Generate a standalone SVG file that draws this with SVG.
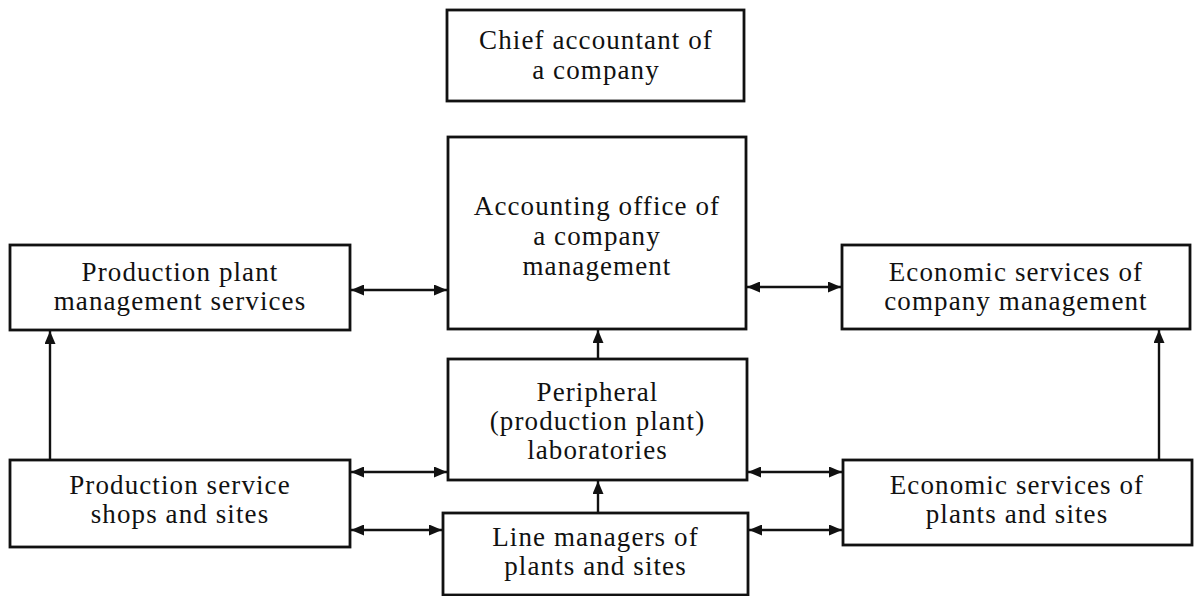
<svg xmlns="http://www.w3.org/2000/svg" width="1194" height="596" viewBox="0 0 1194 596">
<style>
.box{fill:#fff;stroke:#111;stroke-width:2.8}
.t{font-family:"Liberation Serif","Times New Roman",serif;font-size:27px;letter-spacing:1.1px;fill:#111;text-anchor:middle}
.c{stroke:#111;stroke-width:2.4;fill:none}
</style>
<defs>
<marker id="ah" viewBox="0 0 13 11" refX="13" refY="5.5" markerWidth="13" markerHeight="11" markerUnits="userSpaceOnUse" orient="auto-start-reverse">
<path d="M0,0 L13,5.5 L0,11 Z" fill="#111"/>
</marker>
</defs>
<rect width="1194" height="596" fill="#fff"/>
<g id="chief">
<rect class="box" x="447" y="10" width="297" height="91"/>
<text class="t" x="596" y="49">Chief accountant of</text>
<text class="t" x="596" y="79">a company</text>
</g>
<g id="accounting">
<rect class="box" x="448" y="137" width="298" height="192"/>
<text class="t" x="597" y="215">Accounting office of</text>
<text class="t" x="597" y="245">a company</text>
<text class="t" x="597" y="275">management</text>
</g>
<g id="prodplant">
<rect class="box" x="10" y="245" width="340" height="85"/>
<text class="t" x="180" y="281">Production plant</text>
<text class="t" x="180" y="310">management services</text>
</g>
<g id="econcompany">
<rect class="box" x="842" y="245" width="348" height="84"/>
<text class="t" x="1016" y="281">Economic services of</text>
<text class="t" x="1016" y="310">company management</text>
</g>
<g id="peripheral">
<rect class="box" x="448" y="359" width="299" height="121"/>
<text class="t" x="597.5" y="401">Peripheral</text>
<text class="t" x="597.5" y="430">(production plant)</text>
<text class="t" x="597.5" y="459">laboratories</text>
</g>
<g id="prodshops">
<rect class="box" x="10" y="460" width="340" height="87"/>
<text class="t" x="180" y="494">Production service</text>
<text class="t" x="180" y="523">shops and sites</text>
</g>
<g id="econplants">
<rect class="box" x="843" y="460" width="349" height="85"/>
<text class="t" x="1017" y="494">Economic services of</text>
<text class="t" x="1017" y="523">plants and sites</text>
</g>
<g id="linemanagers">
<rect class="box" x="443" y="513" width="305" height="82"/>
<text class="t" x="595.5" y="546">Line managers of</text>
<text class="t" x="595.5" y="575">plants and sites</text>
</g>
<g id="connectors">
<line class="c" x1="351" y1="290" x2="447" y2="290" marker-start="url(#ah)" marker-end="url(#ah)"/>
<line class="c" x1="747" y1="287" x2="841" y2="287" marker-start="url(#ah)" marker-end="url(#ah)"/>
<line class="c" x1="598" y1="359" x2="598" y2="330" marker-end="url(#ah)"/>
<line class="c" x1="598" y1="513" x2="598" y2="481" marker-end="url(#ah)"/>
<line class="c" x1="50" y1="460" x2="50" y2="331" marker-end="url(#ah)"/>
<line class="c" x1="1159" y1="460" x2="1159" y2="330" marker-end="url(#ah)"/>
<line class="c" x1="351" y1="472" x2="447" y2="472" marker-start="url(#ah)" marker-end="url(#ah)"/>
<line class="c" x1="351" y1="530" x2="442" y2="530" marker-start="url(#ah)" marker-end="url(#ah)"/>
<line class="c" x1="748" y1="472" x2="842" y2="472" marker-start="url(#ah)" marker-end="url(#ah)"/>
<line class="c" x1="749" y1="530" x2="842" y2="530" marker-start="url(#ah)" marker-end="url(#ah)"/>
</g>
</svg>
